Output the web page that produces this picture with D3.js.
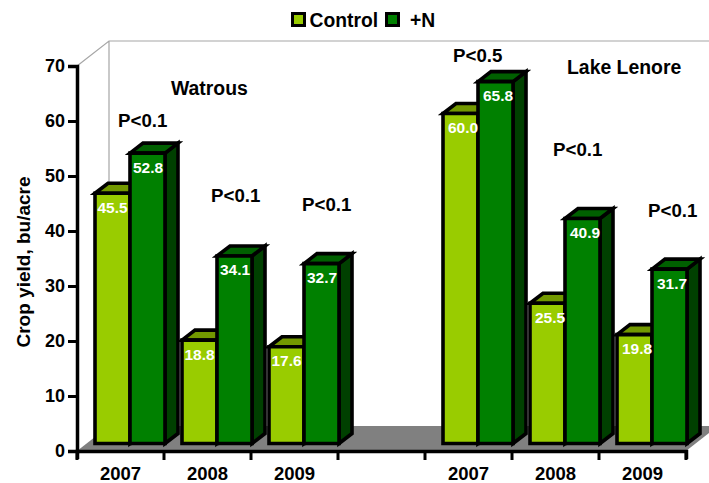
<!DOCTYPE html>
<html><head><meta charset="utf-8">
<script src="https://cdn.jsdelivr.net/npm/d3@7/dist/d3.min.js"></script>
<style>html,body{margin:0;padding:0;background:#fff}svg{display:block}text{font-family:"Liberation Sans",Arial,sans-serif;font-weight:bold}</style>
</head><body><svg id="c" width="709" height="483"></svg>
<script>
const slots = ["a2007","a2008","a2009","gap","b2007","b2008","b2009"];
const slotLabels = ["2007","2008","2009","","2007","2008","2009"];
const controlValues = [45.5,18.8,17.6,null,60.0,25.5,19.8];
const nitrogenValues = [52.8,34.1,32.7,null,65.8,40.9,31.7];
const yTicks = [0,10,20,30,40,50,60,70];
const seriesNames = ["Control","+N"];
const pLabels = [["P<0.1",118,127],["P<0.1",211,202],["P<0.1",302,211],["P<0.5",453,62],["P<0.1",553,156],["P<0.1",648,217]];
const siteLabels = [["Watrous",171,95],["Lake Lenore",567,74]];

const svg = d3.select("#c");
const x = d3.scaleBand().domain(slots).range([77,686]);
const y = d3.scaleLinear().domain([0,70]).range([451,66]);
const wallDx = 32, wallDy = -25, barDx = 13, barDy = -10, baseLift = 7.5, barPad = 18, barW = 35;

svg.append("path").attr("fill","#808080")
  .attr("d",`M${x.range()[0]},${y(0)}L${x.range()[1]},${y(0)}L${x.range()[1]+wallDx},${y(0)+wallDy}L${x.range()[0]+wallDx},${y(0)+wallDy}Z`);
svg.append("path").attr("fill","none").attr("stroke","#a6a6a6").attr("stroke-width",1.2)
  .attr("d",`M${x.range()[0]},${y(70)}L${x.range()[0]+wallDx},${y(70)+wallDy}L709,${y(70)+wallDy}M${x.range()[0]+wallDx},${y(70)+wallDy}L${x.range()[0]+wallDx},${y(0)+wallDy}`);

function bar3d(g,x0,v,front,top,side){
  const by = y(0)-baseLift, ty = by-(y(0)-y(v)), x1 = x0+barW;
  const s = {stroke:"#000","stroke-width":3.6,"stroke-linejoin":"miter"};
  const add=(d,f)=>{const p=g.append("path").attr("d",d).attr("fill",f);Object.entries(s).forEach(([k,w])=>p.attr(k,w));};
  add(`M${x1},${by}L${x1+barDx},${by+barDy}L${x1+barDx},${ty+barDy}L${x1},${ty}Z`,side);
  add(`M${x0},${ty}L${x0+barDx},${ty+barDy}L${x1+barDx},${ty+barDy}L${x1},${ty}Z`,top);
  add(`M${x0},${by}L${x0},${ty}L${x1},${ty}L${x1},${by}Z`,front);
  return ty;
}
const colors = {front:["#99cc00","#008000"],top:["#739900","#006000"],side:["#739900","#004000"]};
const labels = [];
slots.forEach((s,i)=>{
  if(controlValues[i]==null) return;
  const g = svg.append("g");
  const x0 = x(s)+barPad;
  const shift = i > 3 ? 2.5 : 0;
  const t0 = bar3d(g,x0,controlValues[i],colors.front[0],colors.top[0],colors.side[0]);
  labels.push([controlValues[i],x0+barW/2+shift,t0+19.5]);
  const t1 = bar3d(g,x0+barW,nitrogenValues[i],colors.front[1],colors.top[1],colors.side[1]);
  labels.push([nitrogenValues[i],x0+barW*1.5+0.5+shift*0.8,t1+19.5]);
});
svg.append("g").selectAll("text").data(labels).join("text")
  .attr("x",d=>d[1]).attr("y",d=>d[2]).attr("text-anchor","middle")
  .attr("font-size",15.5).attr("fill","#fff").text(d=>d[0].toFixed(1));

const yAxis = d3.axisLeft(y).tickValues(yTicks).tickSize(9).tickPadding(3);
const ya = svg.append("g").attr("transform","translate(77,0)").call(yAxis);
const xAxis = d3.axisBottom(x).tickFormat((d,i)=>slotLabels[i]).tickSize(8).tickPadding(8);
const xa = svg.append("g").attr("transform",`translate(0,${y(0)})`).call(xAxis);
xa.selectAll(".tick line").remove();
xa.selectAll(".boundary").data(d3.range(slots.length+1)).join("line")
  .attr("x1",i=>77+i*x.step()).attr("x2",i=>77+i*x.step()).attr("y1",0).attr("y2",9)
  .attr("stroke","#000").attr("stroke-width",3);
[ya,xa].forEach(a=>{a.selectAll("path.domain").attr("stroke","#000").attr("stroke-width",3.5);
  a.selectAll(".tick line").attr("stroke","#000").attr("stroke-width",3);
  a.selectAll("text").attr("fill","#000");});
ya.selectAll("text").attr("font-size",18);
xa.selectAll("text").attr("font-size",18.5);

svg.append("text").attr("transform","translate(30,262) rotate(-90)").attr("text-anchor","middle")
  .attr("font-size",19).text("Crop yield, bu/acre");

svg.append("g").selectAll("text").data(pLabels).join("text")
  .attr("x",d=>d[1]).attr("y",d=>d[2]).attr("font-size",18.7).text(d=>d[0]);
svg.append("g").selectAll("text").data(siteLabels).join("text")
  .attr("x",d=>d[1]).attr("y",d=>d[2]).attr("font-size",19.4).text(d=>d[0]);

const lx = [292.5,386.5], ltx = [309.5,410];
seriesNames.forEach((n,i)=>{
  svg.append("rect").attr("x",lx[i]).attr("y",13.5).attr("width",12).attr("height",12)
    .attr("fill",colors.front[i]).attr("stroke","#000").attr("stroke-width",3);
  svg.append("text").attr("x",ltx[i]).attr("y",27).attr("font-size",19.3).text(n);
});
</script></body></html>
